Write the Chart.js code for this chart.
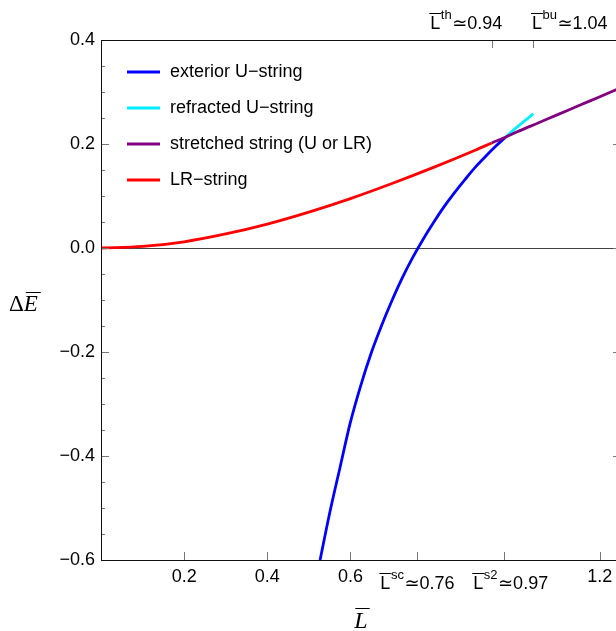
<!DOCTYPE html>
<html>
<head>
<meta charset="utf-8">
<script src="https://cdn.jsdelivr.net/npm/chart.js@4.4.0/dist/chart.umd.min.js"></script>
<style>
  html, body { margin: 0; padding: 0; overflow: hidden; background: #fff; }
  #wrap { width: 616px; height: 631px; overflow: hidden; }
  canvas { display: block; }
</style>
</head>
<body>
<div id="wrap"><canvas id="chart" width="621" height="631" style="width:621px;height:631px"></canvas></div>
<script>
// values
const exteriorL = [0.527, 0.55, 0.575, 0.60, 0.625, 0.65, 0.675, 0.70, 0.725, 0.75, 0.775, 0.80, 0.825, 0.85, 0.875, 0.90, 0.925, 0.95, 0.973];
const exteriorE = [-0.600, -0.510, -0.422, -0.335, -0.264, -0.202, -0.149, -0.101, -0.057, -0.018, 0.017, 0.049, 0.079, 0.106, 0.131, 0.155, 0.176, 0.196, 0.213];

const refractedL = [0.973, 1.0, 1.04];
const refractedE = [0.213, 0.232, 0.258];

const stretchedL = [0.94, 0.973, 1.0, 1.05, 1.1, 1.15, 1.2, 1.25];
const stretchedE = [0.202, 0.213, 0.223, 0.240, 0.257, 0.274, 0.291, 0.308];

const lrL = [0, 0.1, 0.2, 0.3, 0.4, 0.5, 0.6, 0.7, 0.8, 0.9, 0.94];
const lrE = [0, 0.003, 0.012, 0.027, 0.046, 0.069, 0.095, 0.124, 0.155, 0.188, 0.202];

const yMajorTicks = [-0.6, -0.4, -0.2, 0.0, 0.2, 0.4];
const yTickLabels = ['\u22120.6', '\u22120.4', '\u22120.2', '0.0', '0.2', '0.4'];
const yMinorTicks = [-0.55, -0.5, -0.45, -0.35, -0.3, -0.25, -0.15, -0.1, -0.05, 0.05, 0.1, 0.15, 0.25, 0.3, 0.35];

const xTicks = [0.2, 0.4, 0.6, 1.2];
const xTickLabels = ['0.2', '0.4', '0.6', '1.2'];

const bottomMarks = [0.76, 0.97];
const bottomMarkSup = ['sc', 's2'];
const topMarks = [0.94, 1.04];
const topMarkSup = ['th', 'bu'];

function pts(xs, ys) {
    return xs.map((x, i) => ({x: x, y: ys[i]}));
}

const SANS = "'Liberation Sans', Arial, 'DejaVu Sans', sans-serif";
const SERIF = "'Liberation Serif', 'Times New Roman', serif";

// L with overline, superscript, then "≃value"
function drawMarkLabel(ctx, cx, yMid, sup, val) {
    ctx.font = '18px ' + SANS;
    const wL = ctx.measureText('L').width;
    const wV = ctx.measureText('\u2243' + val).width;
    ctx.font = '13px ' + SANS;
    const wS = ctx.measureText(sup).width;
    const x0 = cx - (wL + wS + wV) / 2;
    const base = yMid + 7;
    ctx.fillStyle = '#000';
    ctx.textAlign = 'left';
    ctx.textBaseline = 'alphabetic';
    ctx.font = '18px ' + SANS;
    ctx.fillText('L', x0, base);
    ctx.fillText('\u2243' + val, x0 + wL + wS + 1, base);
    ctx.font = '13px ' + SANS;
    ctx.fillText(sup, x0 + wL + 0.5, base - 10);
    ctx.strokeStyle = '#000';
    ctx.lineWidth = 1;
    ctx.beginPath();
    ctx.moveTo(x0 - 1, base - 15.5);
    ctx.lineTo(x0 + wL + 1, base - 15.5);
    ctx.stroke();
}

const framePlugin = {
    id: 'frame',
    beforeDatasetsDraw(chart) {
        const ctx = chart.ctx;
        const a = chart.chartArea;
        const y0 = chart.scales.y.getPixelForValue(0);
        ctx.save();
        ctx.strokeStyle = '#444';
        ctx.lineWidth = 1;
        ctx.beginPath();
        ctx.moveTo(a.left, Math.round(y0) + 0.5);
        ctx.lineTo(a.right, Math.round(y0) + 0.5);
        ctx.stroke();
        ctx.restore();
    },
    afterDraw(chart) {
        const ctx = chart.ctx;
        const a = chart.chartArea;
        const xs = chart.scales.x;
        const ys = chart.scales.y;
        ctx.save();

        // ticks
        ctx.strokeStyle = '#777';
        ctx.lineWidth = 1;
        ctx.beginPath();
        yMajorTicks.forEach(v => {
            const y = Math.round(ys.getPixelForValue(v)) + 0.5;
            ctx.moveTo(a.left, y); ctx.lineTo(a.left + 8, y);
            ctx.moveTo(a.right, y); ctx.lineTo(a.right - 8, y);
        });
        yMinorTicks.forEach(v => {
            const y = Math.round(ys.getPixelForValue(v)) + 0.5;
            ctx.moveTo(a.left, y); ctx.lineTo(a.left + 4, y);
            ctx.moveTo(a.right, y); ctx.lineTo(a.right - 4, y);
        });
        xTicks.concat(bottomMarks).forEach(v => {
            const x = Math.round(xs.getPixelForValue(v)) + 0.5;
            ctx.moveTo(x, a.bottom); ctx.lineTo(x, a.bottom - 8);
        });
        topMarks.forEach(v => {
            const x = Math.round(xs.getPixelForValue(v)) + 0.5;
            ctx.moveTo(x, a.top); ctx.lineTo(x, a.top + 8);
        });
        ctx.stroke();

        // frame
        ctx.strokeStyle = '#111';
        ctx.strokeRect(Math.round(a.left) + 0.5, Math.round(a.top) + 0.5,
            Math.round(a.right - a.left), Math.round(a.bottom - a.top));

        // tick labels
        ctx.fillStyle = '#000';
        ctx.font = '18px ' + SANS;
        ctx.textAlign = 'right';
        ctx.textBaseline = 'middle';
        yMajorTicks.forEach((v, i) => {
            ctx.fillText(yTickLabels[i], a.left - 6, ys.getPixelForValue(v));
        });
        ctx.textAlign = 'center';
        xTicks.forEach((v, i) => {
            ctx.fillText(xTickLabels[i], xs.getPixelForValue(v), a.bottom + 17);
        });
        const bottomShift = [0, 6];
        bottomMarks.forEach((v, i) => {
            drawMarkLabel(ctx, xs.getPixelForValue(v) + bottomShift[i], a.bottom + 22, bottomMarkSup[i], v.toFixed(2));
        });
        const topShift = [-26, 36];
        topMarks.forEach((v, i) => {
            drawMarkLabel(ctx, xs.getPixelForValue(v) + topShift[i], a.top - 18, topMarkSup[i], v.toFixed(2));
        });

        // axis titles
        ctx.textAlign = 'left';
        ctx.textBaseline = 'alphabetic';
        ctx.font = '23px ' + SERIF;
        ctx.fillText('\u0394', 9, 311);
        const wD = ctx.measureText('\u0394').width;
        ctx.font = 'italic 23px ' + SERIF;
        ctx.fillText('E', 9 + wD, 311);
        const wE = ctx.measureText('E').width;
        ctx.strokeStyle = '#000';
        ctx.lineWidth = 1;
        ctx.beginPath();
        ctx.moveTo(9 + wD + 2, 292.5); ctx.lineTo(9 + wD + wE + 3, 292.5);
        ctx.stroke();

        const cx = 361;
        ctx.font = 'italic 24px ' + SERIF;
        const wLt = ctx.measureText('L').width;
        ctx.fillText('L', cx - wLt / 2, 628);
        ctx.beginPath();
        ctx.moveTo(cx - wLt / 2 + 1, 608.5); ctx.lineTo(cx + wLt / 2 + 2, 608.5);
        ctx.stroke();

        // legend
        const items = chart.data.datasets;
        items.forEach((ds, i) => {
            const y = 72 + i * 36;
            ctx.strokeStyle = ds.borderColor;
            ctx.lineWidth = 3;
            ctx.beginPath();
            ctx.moveTo(127, y); ctx.lineTo(160, y);
            ctx.stroke();
            ctx.fillStyle = '#000';
            ctx.font = '18px ' + SANS;
            ctx.textBaseline = 'middle';
            ctx.fillText(ds.label, 170, y);
        });
        ctx.restore();
    }
};

const lineStyle = {
    showLine: true,
    pointRadius: 0,
    borderWidth: 2.8,
    fill: false,
    cubicInterpolationMode: 'monotone'
};

new Chart(document.getElementById('chart'), {
    type: 'scatter',
    data: {
        datasets: [
            Object.assign({label: 'exterior U\u2212string', data: pts(exteriorL, exteriorE), borderColor: '#0000ff', order: 3}, lineStyle),
            Object.assign({label: 'refracted U\u2212string', data: pts(refractedL, refractedE), borderColor: '#00eeff', order: 2}, lineStyle),
            Object.assign({label: 'stretched string (U or LR)', data: pts(stretchedL, stretchedE), borderColor: '#800080', order: 1}, lineStyle),
            Object.assign({label: 'LR\u2212string', data: pts(lrL, lrE), borderColor: '#ff0000', order: 4}, lineStyle)
        ]
    },
    options: {
        responsive: false,
        animation: false,
        layout: { padding: { left: 101, top: 40, right: 0, bottom: 71 } },
        plugins: { legend: { display: false }, tooltip: { enabled: false } },
        scales: {
            x: { type: 'linear', display: false, min: 0, max: 1.2509 },
            y: { type: 'linear', display: false, min: -0.6, max: 0.4 }
        }
    },
    plugins: [framePlugin]
});
</script>
</body>
</html>
